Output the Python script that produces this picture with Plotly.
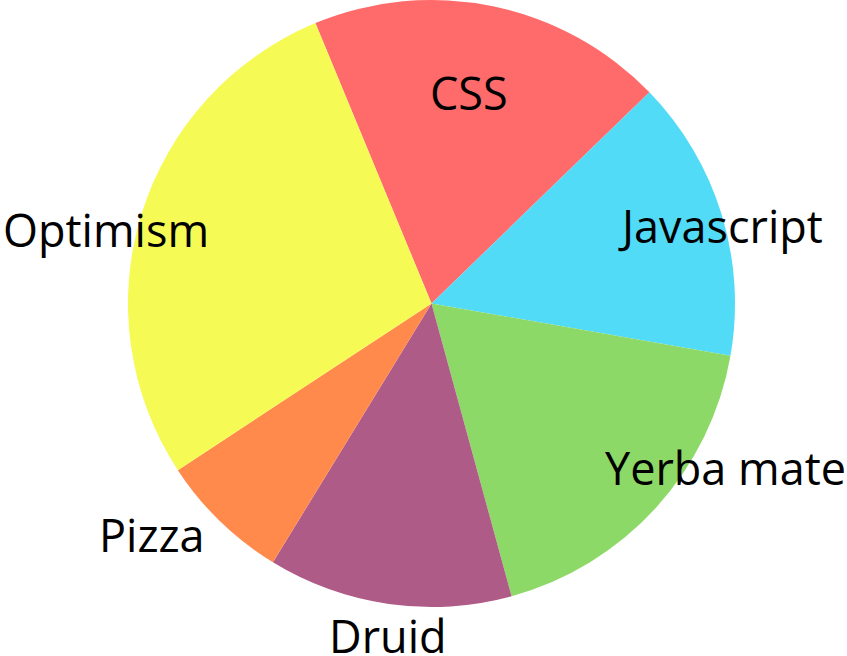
import plotly.graph_objects as go

labels = ["CSS", "Javascript", "Yerba mate", "Druid", "Pizza", "Optimism"]
values = [19, 15, 18, 13, 7, 28]
colors = ["#FF6B6B", "#51DBF7", "#8DD967", "#AF5B88", "#FF8A4C", "#F6FA55"]

# label text centres in pixels (x, y from top)
label_px = [(469, 92), (720, 226), (725, 467), (388, 635), (152, 534), (106, 229)]

W, H = 847, 656
cx, cy, r = 431.5, 303.5, 303.5

fig = go.Figure(go.Pie(
    labels=labels,
    values=values,
    sort=False,
    direction="clockwise",
    rotation=-22.5,
    marker=dict(colors=colors, line=dict(width=0)),
    textinfo="none",
    hoverinfo="label+value",
    domain=dict(x=[(cx - r) / W, (cx + r) / W], y=[1 - (cy + r) / H, 1 - (cy - r) / H]),
))

for lab, (px, py) in zip(labels, label_px):
    fig.add_annotation(
        text=lab, x=px / W, y=1 - py / H, xref="paper", yref="paper",
        xanchor="center", yanchor="middle", showarrow=False,
        font=dict(family="Open Sans", size=45, color="#000000"),
    )

fig.update_layout(
    width=W, height=H,
    margin=dict(l=0, r=0, t=0, b=0),
    showlegend=False,
    paper_bgcolor="white",
    plot_bgcolor="white",
)

fig.write_html("out.html")
